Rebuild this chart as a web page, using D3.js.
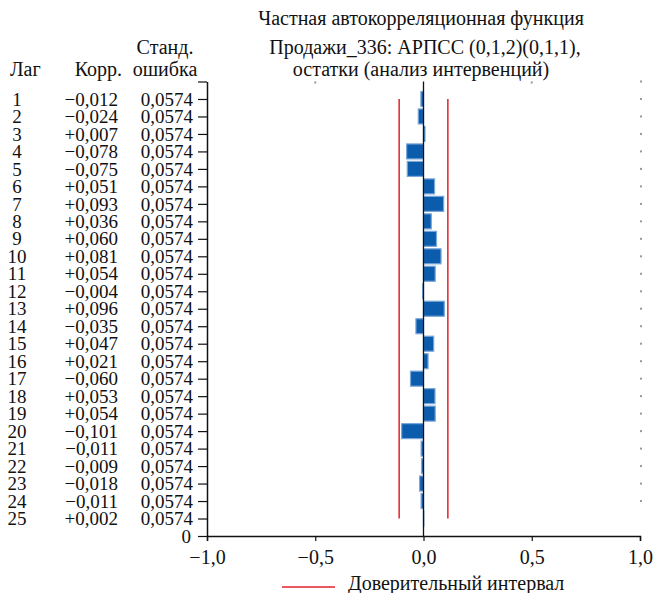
<!DOCTYPE html>
<html>
<head>
<meta charset="utf-8">
<script src="https://cdn.jsdelivr.net/npm/d3@7"></script>
<style>
  body { margin: 0; background: #fff; }
  text { font-family: "Liberation Serif", "DejaVu Serif", serif; fill: #111; }
</style>
</head>
<body>
<div id="chart"></div>
<script>
//////////////////////////////////////////////////////////////////////////////
// Data

var lags = [1, 2, 3, 4, 5, 6, 7, 8, 9, 10, 11, 12, 13, 14, 15, 16, 17, 18, 19, 20, 21, 22, 23, 24, 25];
var corr = [-0.012, -0.024, 0.007, -0.078, -0.075, 0.051, 0.093, 0.036, 0.060, 0.081,
            0.054, -0.004, 0.096, -0.035, 0.047, 0.021, -0.060, 0.053, 0.054, -0.101,
            -0.011, -0.009, -0.018, -0.011, 0.002];
var stdErr = [0.0574, 0.0574, 0.0574, 0.0574, 0.0574, 0.0574, 0.0574, 0.0574, 0.0574, 0.0574,
              0.0574, 0.0574, 0.0574, 0.0574, 0.0574, 0.0574, 0.0574, 0.0574, 0.0574, 0.0574,
              0.0574, 0.0574, 0.0574, 0.0574, 0.0574];
var xTicks = [-1, -0.5, 0, 0.5, 1];
var confLimit = 1.96 * 0.0574;

var titleLines = ["Частная автокорреляционная функция",
                  "Продажи_336: АРПСС (0,1,2)(0,1,1),",
                  "остатки (анализ интервенций)"];
var legendLabel = "Доверительный интервал";

var rows = lags.map(function(l, i) { return { lag: l, r: corr[i], se: stdErr[i] }; });

//////////////////////////////////////////////////////////////////////////////
// Scales

var width = 655, height = 593;
var fs = 19;      // table rows
var fsHead = 20;  // titles, headers, legend

var xScale = d3.scaleLinear().domain([-1, 1]).range([207, 640]);
// lag 0 sits at the top of the frame, the bottom axis is one step below lag 25
var yScale = d3.scaleLinear().domain([0, 26]).range([81.5, 536]);
var barH = 15;

function fmtComma(v, digits) {
    return d3.format("." + digits + "f")(Math.abs(v)).replace(".", ",");
}
function fmtCorr(v) {
    return (v < 0 ? "\u2212" : "+") + fmtComma(v, 3);
}
function fmtTick(v) {
    return (v < 0 ? "\u2212" : "") + fmtComma(v, 1);
}

var svg = d3.select("#chart")
    .append("svg")
    .attr("width", width)
    .attr("height", height);

//////////////////////////////////////////////////////////////////////////////
// Titles and table headers

svg.append("g")
    .selectAll("text")
    .data(titleLines)
    .enter()
    .append("text")
    .attr("x", function(d, i) { return [421, 425, 421][i]; })
    .attr("y", function(d, i) { return [25, 54, 76][i]; })
    .attr("text-anchor", "middle")
    .attr("font-size", fsHead)
    .text(function(d) { return d; });

svg.append("text").attr("x", 10).attr("y", 76).attr("font-size", fsHead).text("Лаг");
svg.append("text").attr("x", 122).attr("y", 76).attr("text-anchor", "end").attr("font-size", fsHead).text("Корр.");
svg.append("text").attr("x", 165).attr("y", 54).attr("text-anchor", "middle").attr("font-size", fsHead).text("Станд.");
svg.append("text").attr("x", 165).attr("y", 76).attr("text-anchor", "middle").attr("font-size", fsHead).text("ошибка");

//////////////////////////////////////////////////////////////////////////////
// Table columns

var table = svg.append("g");

table.selectAll("text.lag")
    .data(rows)
    .enter()
    .append("text")
    .attr("class", "lag")
    .attr("x", 17)
    .attr("y", function(d) { return yScale(d.lag); })
    .attr("dy", "0.35em")
    .attr("text-anchor", "middle")
    .attr("font-size", fs)
    .text(function(d) { return d.lag; });

table.selectAll("text.corr")
    .data(rows)
    .enter()
    .append("text")
    .attr("class", "corr")
    .attr("x", 118)
    .attr("y", function(d) { return yScale(d.lag); })
    .attr("dy", "0.35em")
    .attr("text-anchor", "end")
    .attr("font-size", fs)
    .text(function(d) { return fmtCorr(d.r); });

table.selectAll("text.se")
    .data(rows)
    .enter()
    .append("text")
    .attr("class", "se")
    .attr("x", 193)
    .attr("y", function(d) { return yScale(d.lag); })
    .attr("dy", "0.35em")
    .attr("text-anchor", "end")
    .attr("font-size", fs)
    .text(function(d) { return fmtComma(d.se, 4); });

//////////////////////////////////////////////////////////////////////////////
// Faint frame ticks on the top and right

svg.append("g")
    .selectAll("rect")
    .data([-0.5, 0.5])
    .enter()
    .append("rect")
    .attr("x", function(d) { return xScale(d) - 1; })
    .attr("y", yScale(0))
    .attr("width", 2).attr("height", 2)
    .attr("fill", "#999");

svg.append("g")
    .selectAll("rect")
    .data(d3.range(0, 25))
    .enter()
    .append("rect")
    .attr("x", xScale(1))
    .attr("y", function(d) { return yScale(d) - 1; })
    .attr("width", 2).attr("height", 2)
    .attr("fill", "#999");

//////////////////////////////////////////////////////////////////////////////
// Bars

svg.append("g")
    .selectAll("rect")
    .data(rows)
    .enter()
    .append("rect")
    .attr("x", function(d) { return xScale(Math.min(0, d.r)); })
    .attr("y", function(d) { return yScale(d.lag) - barH / 2; })
    .attr("width", function(d) { return Math.abs(xScale(d.r) - xScale(0)); })
    .attr("height", barH)
    .attr("fill", "#0b5cad")
    .attr("stroke", "#7aa6d8")
    .attr("stroke-width", 1.2);

// zero line
svg.append("line")
    .attr("x1", xScale(0)).attr("x2", xScale(0))
    .attr("y1", yScale(0)).attr("y2", yScale(26))
    .attr("stroke", "#111").attr("stroke-width", 1.3);

// confidence limits
svg.append("g")
    .selectAll("line")
    .data([-confLimit, confLimit])
    .enter()
    .append("line")
    .attr("x1", function(d) { return xScale(d); })
    .attr("x2", function(d) { return xScale(d); })
    .attr("y1", yScale(1))
    .attr("y2", yScale(25))
    .attr("stroke", "#e3202b")
    .attr("stroke-width", 1.5);

//////////////////////////////////////////////////////////////////////////////
// Axes

var xAxis = d3.axisBottom(xScale)
    .tickValues(xTicks)
    .tickSize(5)
    .tickPadding(9)
    .tickFormat(fmtTick);

var gx = svg.append("g")
    .attr("transform", "translate(0," + yScale(26) + ")")
    .call(xAxis);
gx.select(".domain").attr("stroke", "#111").attr("stroke-width", 1.5);
gx.selectAll(".tick line").attr("stroke", "#111").attr("stroke-width", 1.2);
gx.selectAll(".tick text")
    .attr("font-family", "Liberation Serif")
    .attr("font-size", fsHead)
    .attr("fill", "#111");

var yAxis = d3.axisLeft(yScale)
    .tickValues(d3.range(0, 27))
    .tickSize(9)
    .tickSizeOuter(0)
    .tickFormat(function(d) { return d === 26 ? "0" : ""; })
    .tickPadding(7);

var gy = svg.append("g")
    .attr("transform", "translate(" + xScale(-1) + ",0)")
    .call(yAxis);
gy.select(".domain").attr("stroke", "#111").attr("stroke-width", 1.5);
gy.selectAll(".tick line").attr("stroke", "#111").attr("stroke-width", 1.2);
gy.selectAll(".tick text")
    .attr("font-family", "Liberation Serif")
    .attr("font-size", fs)
    .attr("fill", "#111");

//////////////////////////////////////////////////////////////////////////////
// Legend

svg.append("line")
    .attr("x1", 282).attr("x2", 335)
    .attr("y1", 587).attr("y2", 587)
    .attr("stroke", "#e3202b").attr("stroke-width", 1.5);

svg.append("text")
    .attr("x", 348).attr("y", 590)
    .attr("font-size", fsHead)
    .text(legendLabel);
</script>
</body>
</html>
